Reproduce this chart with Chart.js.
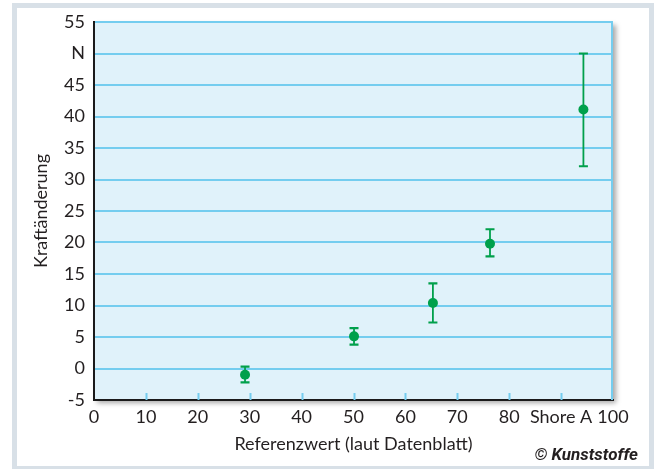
<!DOCTYPE html>
<html>
<head>
<meta charset="utf-8">
<script src="https://cdn.jsdelivr.net/npm/chart.js@4.4.1/dist/chart.umd.min.js"></script>
<style>
  html, body { margin: 0; padding: 0; background: #fff; }
  #wrap { position: relative; width: 660px; height: 469px; }
  canvas { display: block; }
</style>
</head>
<body>
<div id="wrap"><canvas id="c" width="660" height="469"></canvas></div>
<script>
// ---- data ----
const refValues   = [29.1, 50.1, 65.3, 76.3, 94.3];     // Referenzwert (Shore A)
const forceChange = [-1.0, 5.1, 10.4, 19.8, 41.1];      // Kraftänderung (N)
const errLow      = [-2.2, 3.8, 7.3, 17.8, 32.1];
const errHigh     = [0.3, 6.4, 13.5, 22.1, 50.0];
const xTickLabels = {90: 'Shore A'};
const yTickLabels = {50: 'N'};
const xTitle = 'Referenzwert (laut Datenblatt)';
const yTitle = 'Kraftänderung';
const credit = '© Kunststoffe';

const GREEN = '#00a04b';
const GRID = '#74cdef';
const TEXT = '#231f20';
const FONT = 'Lato, "Open Sans", sans-serif';

const points = refValues.map((x, i) => ({x: x, y: forceChange[i]}));

const decor = {
  id: 'decor',
  beforeDraw(chart) {
    const ctx = chart.ctx;
    const a = chart.chartArea;
    ctx.save();
    ctx.fillStyle = '#fff';
    ctx.fillRect(0, 0, chart.width, chart.height);
    // outer frame
    ctx.strokeStyle = '#d8e0e7';
    ctx.lineWidth = 5;
    ctx.strokeRect(14.5, 5.5, 637, 463);
    // plot background with shadow
    ctx.shadowColor = 'rgba(0,0,0,0.35)';
    ctx.shadowBlur = 5;
    ctx.shadowOffsetX = 3;
    ctx.shadowOffsetY = 3;
    ctx.fillStyle = '#e0f2fa';
    ctx.fillRect(a.left, a.top, a.right - a.left, a.bottom - a.top);
    ctx.restore();
  },
  beforeDatasetsDraw(chart) {
    const ctx = chart.ctx;
    const a = chart.chartArea;
    const xs = chart.scales.x, ys = chart.scales.y;
    ctx.save();
    // right border
    ctx.strokeStyle = GRID;
    ctx.lineWidth = 2;
    ctx.beginPath();
    ctx.moveTo(a.right - 1, a.top);
    ctx.lineTo(a.right - 1, a.bottom);
    ctx.stroke();
    // inner tick marks on x axis
    xs.ticks.forEach(t => {
      if (t.value <= xs.min || t.value >= xs.max) return;
      const px = Math.round(xs.getPixelForValue(t.value)) + 0.5;
      ctx.beginPath();
      ctx.moveTo(px, a.bottom);
      ctx.lineTo(px, a.bottom - 7);
      ctx.stroke();
    });
    // error bars
    ctx.strokeStyle = GREEN;
    refValues.forEach((xv, i) => {
      const px = xs.getPixelForValue(xv);
      const yl = ys.getPixelForValue(errLow[i]);
      const yh = ys.getPixelForValue(errHigh[i]);
      ctx.lineWidth = 1.8;
      ctx.beginPath();
      ctx.moveTo(px, yl);
      ctx.lineTo(px, yh);
      ctx.stroke();
      ctx.lineWidth = 2.2;
      ctx.beginPath();
      ctx.moveTo(px - 4.5, yl);
      ctx.lineTo(px + 4.5, yl);
      ctx.moveTo(px - 4.5, yh);
      ctx.lineTo(px + 4.5, yh);
      ctx.stroke();
    });
    ctx.restore();
  },
  afterDraw(chart) {
    const ctx = chart.ctx;
    ctx.save();
    ctx.fillStyle = TEXT;
    ctx.font = 'italic bold 17px "Liberation Sans Narrow", Roboto, sans-serif';
    ctx.textAlign = 'right';
    ctx.textBaseline = 'middle';
    ctx.fillText(credit, 638, 456);
    ctx.restore();
  }
};

new Chart(document.getElementById('c'), {
  type: 'scatter',
  data: {
    datasets: [{
      data: points,
      backgroundColor: GREEN,
      borderColor: GREEN,
      pointRadius: 5,
      pointHoverRadius: 5,
      borderWidth: 0
    }]
  },
  options: {
    responsive: false,
    animation: false,
    events: [],
    layout: { padding: { left: 0, top: 22, right: 47, bottom: 0 } },
    plugins: { legend: { display: false }, tooltip: { enabled: false } },
    scales: {
      x: {
        type: 'linear', min: 0, max: 100,
        afterFit(s) { s.height = 69; },
        grid: { display: false, drawTicks: false },
        border: { display: true, color: '#1a1a1a', width: 2 },
        ticks: {
          stepSize: 10, autoSkip: false, maxRotation: 0, padding: 6,
          color: TEXT, font: { family: FONT, size: 18 },
          callback: v => (xTickLabels[v] !== undefined ? xTickLabels[v] : v)
        },
        title: {
          display: true, text: xTitle, color: TEXT,
          font: { family: FONT, size: 18 }, padding: { top: 0, bottom: 14 }
        }
      },
      y: {
        type: 'linear', min: -5, max: 55,
        afterFit(s) { s.width = 94; },
        grid: { color: GRID, lineWidth: 2, drawTicks: false },
        border: { display: true, color: '#1a1a1a', width: 2 },
        ticks: {
          stepSize: 5, padding: 9,
          color: TEXT, font: { family: FONT, size: 18 },
          callback: v => (yTickLabels[v] !== undefined ? yTickLabels[v] : v)
        },
        title: {
          display: true, text: yTitle, color: TEXT,
          font: { family: FONT, size: 18 }, padding: { top: 30, bottom: 0 }
        }
      }
    }
  },
  plugins: [decor]
});
</script>
</body>
</html>
